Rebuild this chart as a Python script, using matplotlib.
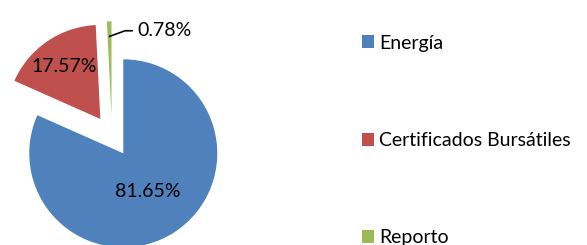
import matplotlib.pyplot as plt
import numpy as np
from matplotlib.patches import Patch

# Datos del gráfico
categorias = ['Energía', 'Certificados Bursátiles', 'Reporto']
porcentajes = [81.65, 17.57, 0.78]
etiquetas = ['81.65%', '17.57%', '0.78%']
colores = ['#4F81BD', '#C0504D', '#9BBB59']
separacion = [0.22, 0.22, 0.22]

plt.rcParams['font.family'] = ['Lato', 'DejaVu Sans']

W, H = 587, 245
fig = plt.figure(figsize=(W / 100, H / 100), dpi=100)

# Ejes: 1 unidad = 94 px, centro del pastel en (112, 136) px desde arriba
R = 94.0
cx, cy = 112, 136
ax_w = 330
ax = fig.add_axes([0, 0, ax_w / W, 1])

wedges, _ = ax.pie(porcentajes, colors=colores, explode=separacion,
                   startangle=90, counterclock=False, radius=1.0,
                   wedgeprops=dict(linewidth=0))
ax.set_aspect('auto')
ax.set_xlim(-cx / R, (ax_w - cx) / R)
ax.set_ylim(-(H - cy) / R, cy / R)
ax.axis('off')

# Etiquetas de porcentaje
dist = [0.48, 0.68]
for w, lab, d in zip(wedges[:2], etiquetas[:2], dist):
    ang = np.deg2rad((w.theta1 + w.theta2) / 2)
    x = w.center[0] + d * np.cos(ang)
    y = w.center[1] + d * np.sin(ang)
    ax.text(x, y, lab, ha='center', va='center', fontsize=14, color='black')

# Etiqueta de Reporto con línea guía
w = wedges[2]
ang = np.deg2rad((w.theta1 + w.theta2) / 2)
px = w.center[0] + 0.84 * np.cos(ang)
py = w.center[1] + 0.84 * np.sin(ang)
ax.annotate(etiquetas[2], xy=(px, py), xytext=(px + 0.30, py + 0.06),
            ha='left', va='center', fontsize=14, color='black',
            arrowprops=dict(arrowstyle='-', color='black', lw=1.2,
                            relpos=(0, 0.5), shrinkA=2, shrinkB=0,
                            connectionstyle='angle,angleA=0,angleB=20,rad=0'))

handles = [Patch(facecolor=c, edgecolor='none') for c in colores]
fig.legend(handles, categorias, loc='upper left',
           bbox_to_anchor=(352 / W, 1 - 25 / H), frameon=False,
           fontsize=14, labelspacing=4.13, handlelength=0.65,
           handleheight=0.65, handletextpad=0.25, borderpad=0)

fig.savefig('out.png', dpi=100)
